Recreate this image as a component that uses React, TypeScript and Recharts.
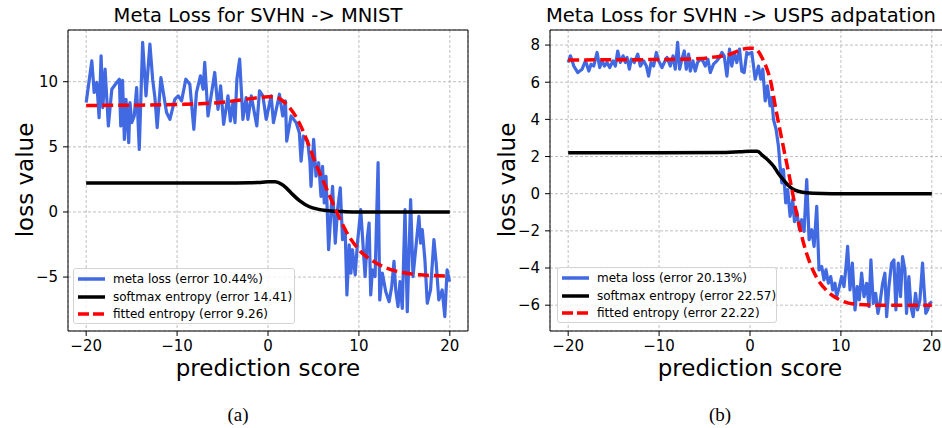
import React, { useLayoutEffect } from 'react';
import { LineChart, Line, XAxis, YAxis, CartesianGrid, ReferenceArea } from 'recharts';

// ---------- data: panel (a) SVHN -> MNIST ----------
const aMetaX = [-20.0, -19.38, -19.12, -18.83, -18.58, -18.36, -18.17, -17.92, -17.56, -17.18, -16.64, -16.35, -16.2, -16.0, -15.8, -15.62, -15.32, -15.18, -14.99, -14.71, -14.45, -14.16, -13.79, -13.42, -12.99, -12.69, -12.44, -12.19, -11.78, -11.16, -10.79, -10.25, -9.88, -9.51, -9.04, -8.6, -8.16, -7.87, -7.43, -7.14, -6.96, -6.6, -5.86, -5.5, -5.21, -4.88, -4.4, -4.14, -3.85, -3.63, -3.42, -3.12, -2.76, -2.4, -2.21, -1.84, -1.23, -0.93, -0.56, -0.2, 0.35, 0.6, 1.26, 1.62, 1.92, 2.06, 2.54, 3.09, 3.45, 3.64, 3.89, 4.36, 4.62, 4.73, 5.02, 5.28, 5.57, 5.83, 6.0, 6.19, 6.38, 6.67, 7.1, 7.4, 7.65, 7.95, 8.2, 8.49, 8.68, 8.93, 9.12, 9.29, 9.59, 9.84, 10.2, 10.68, 10.94, 11.12, 11.3, 11.48, 11.78, 12.11, 12.29, 12.58, 12.95, 13.32, 13.61, 13.86, 14.05, 14.3, 14.52, 14.77, 15.07, 15.32, 15.69, 15.95, 16.24, 16.6, 16.79, 16.97, 17.26, 17.52, 17.88, 18.25, 18.5, 18.79, 19.16, 19.45, 19.7, 19.97];
const aMetaY = [8.40, 11.60, 9.17, 9.94, 7.24, 11.99, 8.01, 10.96, 6.60, 9.42, 9.94, 10.19, 6.60, 10.1, 5.57, 8.65, 5.32, 8.40, 6.86, 7.37, 9.55, 4.80, 13.02, 8.91, 12.89, 10.19, 8.78, 6.47, 10.32, 7.63, 7.11, 8.65, 8.91, 8.52, 10.19, 9.81, 6.34, 9.17, 10.45, 9.42, 11.48, 7.37, 10.71, 7.88, 9.68, 6.73, 8.91, 6.98, 8.40, 6.86, 10.19, 11.73, 7.11, 8.78, 7.11, 8.91, 6.60, 9.29, 8.91, 7.11, 8.91, 6.86, 9.04, 7.37, 8.52, 5.44, 7.37, 6.86, 6.09, 3.90, 5.82, 5.44, 3.78, 1.97, 5.57, 2.74, 3.78, 1.20, 3.51, 0.69, 2.74, -2.90, 1.97, -2.39, 0.18, 1.85, -2.13, -1.36, -6.37, -2.52, -4.70, -2.90, -4.83, -2.39, 0.18, -4.96, -1.88, -0.85, -6.37, -4.45, -4.96, 3.78, -6.76, -4.70, -6.11, -6.89, -5.73, -3.80, -5.99, -7.27, -5.35, -7.40, 0.18, -7.66, 0.95, -4.96, -2.90, -0.34, -2.39, -1.36, -3.67, -7.01, -5.99, -2.13, -3.93, -6.76, -5.99, -8.04, -4.45, -5.35];
const aSoftX = [-20, -10, -5, -2, -1, 0, 0.8, 1.5, 2.0, 2.7, 3.5, 4.5, 5.6, 7.0, 8.5, 10, 15, 20];
const aSoftY = [2.22, 2.22, 2.22, 2.24, 2.27, 2.31, 2.31, 2.12, 1.85, 1.35, 0.85, 0.42, 0.2, 0.07, 0.02, 0.0, 0.0, 0.0];
const aFitX = [-20, -14, -10, -7.5, -5, -3, -1, 0, 0.7, 1.5, 2.2, 3.0, 3.8, 4.5, 5.2, 6.0, 6.8, 7.5, 8.6, 10, 11.5, 13, 14.8, 16.6, 18, 20];
const aFitY = [8.18, 8.2, 8.25, 8.3, 8.42, 8.6, 8.78, 8.85, 8.85, 8.6, 8.15, 7.4, 6.3, 5.1, 3.8, 2.5, 1.2, 0.1, -1.5, -2.9, -3.75, -4.3, -4.65, -4.82, -4.88, -4.92];

// ---------- data: panel (b) SVHN -> USPS ----------
const bMetaX = [-20.0, -19.75, -19.38, -18.94, -18.47, -18.1, -17.73, -17.48, -17.19, -16.82, -16.53, -16.27, -16.01, -15.72, -15.43, -15.06, -14.81, -14.55, -14.26, -13.96, -13.71, -13.52, -13.27, -13.05, -12.72, -12.35, -12.06, -11.7, -11.4, -11.15, -10.89, -10.6, -10.3, -10.05, -9.68, -9.43, -9.13, -8.77, -8.47, -8.22, -7.96, -7.74, -7.49, -7.23, -7.01, -6.75, -6.57, -6.28, -6.02, -5.77, -5.47, -5.18, -4.92, -4.63, -4.37, -4.01, -3.64, -3.35, -3.09, -2.84, -2.54, -2.25, -2.0, -1.74, -1.45, -1.15, -0.9, -0.64, -0.35, -0.17, 0.2, 0.57, 0.93, 1.19, 1.41, 1.67, 1.92, 2.21, 2.4, 2.58, 2.87, 3.13, 3.31, 3.5, 3.68, 3.93, 4.15, 4.41, 4.7, 4.89, 5.14, 5.44, 5.69, 5.95, 6.24, 6.5, 6.79, 7.05, 7.34, 7.59, 7.89, 8.14, 8.36, 8.62, 8.88, 9.1, 9.35, 9.53, 9.83, 10.08, 10.34, 10.56, 10.74, 11.0, 11.26, 11.55, 11.8, 12.02, 12.28, 12.54, 12.83, 13.09, 13.3, 13.56, 13.82, 14.07, 14.29, 14.59, 14.84, 15.03, 15.28, 15.57, 15.83, 16.05, 16.31, 16.56, 16.78, 17.04, 17.22, 17.48, 17.7, 17.95, 18.21, 18.43, 18.69, 18.98, 19.16, 19.34, 19.53, 19.78, 20.0];
const bMetaY = [7.06, 7.42, 6.87, 6.52, 6.70, 7.15, 6.60, 6.97, 6.87, 7.60, 6.79, 7.15, 6.87, 7.06, 6.79, 7.15, 6.87, 7.68, 7.06, 7.42, 7.06, 7.33, 6.70, 7.24, 7.06, 7.51, 6.87, 7.15, 6.87, 6.33, 7.06, 6.87, 7.60, 7.15, 6.79, 7.06, 7.33, 6.87, 7.42, 6.70, 8.14, 6.70, 7.24, 7.68, 6.70, 7.51, 6.60, 7.15, 6.60, 7.06, 7.24, 7.15, 6.87, 7.24, 6.52, 6.97, 7.15, 7.33, 7.60, 7.42, 6.33, 7.78, 6.87, 7.60, 7.06, 7.78, 6.60, 6.52, 7.60, 7.51, 7.60, 6.16, 6.87, 6.16, 6.70, 4.99, 5.80, 4.72, 5.17, 4.00, 3.46, 2.56, 1.48, 0.58, 1.30, -0.50, 0.22, -1.22, -0.32, -1.50, -0.95, -1.94, -1.40, -2.03, 0.76, -2.48, -1.94, -2.84, -0.68, -4.10, -3.92, -4.64, -4.10, -4.82, -4.46, -5.18, -4.82, -5.54, -5.00, -4.46, -5.00, -3.92, -2.84, -5.18, -3.74, -6.26, -5.00, -5.72, -4.28, -5.54, -4.82, -6.08, -3.56, -5.90, -5.36, -6.44, -5.90, -4.82, -4.28, -6.62, -5.00, -3.74, -3.56, -6.26, -3.74, -5.54, -3.38, -4.10, -6.44, -4.46, -6.08, -6.62, -5.36, -6.26, -5.72, -3.74, -5.18, -6.44, -6.26, -5.90, -5.81];
const bSoftX = [-20, -10, -3, -1, 0, 0.8, 1.4, 2.0, 2.6, 3.1, 3.65, 4.2, 4.7, 5.4, 6.2, 8, 10, 20];
const bSoftY = [2.2, 2.2, 2.22, 2.26, 2.29, 2.29, 2.05, 1.8, 1.48, 1.1, 0.76, 0.45, 0.25, 0.12, 0.05, 0.01, 0.0, 0.0];
const bFitX = [-20, -10, -5.1, -4, -2.5, -1.5, -1, 0, 0.5, 1.0, 1.4, 1.8, 2.2, 2.9, 3.65, 4.4, 5.1, 6.0, 7.1, 8.4, 9.8, 11.7, 14, 20];
const bFitY = [7.2, 7.22, 7.28, 7.35, 7.46, 7.65, 7.75, 7.83, 7.82, 7.6, 7.24, 6.8, 6.2, 4.4, 2.56, 0.76, -1.0, -2.85, -4.3, -5.2, -5.7, -5.95, -6.0, -6.0];

// ---------- ticks & labels ----------
const xTicks = [-20, -10, 0, 10, 20];
const aYTicks = [-5, 0, 5, 10];
const bYTicks = [-6, -4, -2, 0, 2, 4, 6, 8];
const titles = ['Meta Loss for SVHN -> MNIST', 'Meta Loss for SVHN -> USPS adpatation'];
const xLabel = 'prediction score';
const yLabel = 'loss value';
const aLegend = ['meta loss (error 10.44%)', 'softmax entropy (error 14.41)', 'fitted entropy (error 9.26)'];
const bLegend = ['meta loss (error 20.13%)', 'softmax entropy (error 22.57)', 'fitted entropy (error 22.22)'];
const captions = ['(a)', '(b)'];

const zip = (xs: number[], ys: number[]) => xs.map((x, i) => ({ x, y: ys[i] }));
const fmt = (v: number) => (v < 0 ? '\u2212' + Math.abs(v) : String(v));

const SANS = 'DejaVu Sans, sans-serif';
const BLUE = '#4169E1';
const RED = '#FF0000';

type PanelProps = {
  left: number;
  meta: { x: number; y: number }[];
  soft: { x: number; y: number }[];
  fit: { x: number; y: number }[];
  yDomain: [number, number];
  yTicks: number[];
};

function Panel({ left, meta, soft, fit, yDomain, yTicks }: PanelProps) {
  const tickStyle = { fill: '#000', fontSize: 15, fontFamily: SANS };
  return (
    <div style={{ position: 'absolute', left, top: 0 }}>
      <LineChart width={480} height={428} margin={{ top: 30, right: 12, bottom: 0, left: 0 }}>
        <CartesianGrid stroke="#b8b8b8" strokeDasharray="3 2" strokeWidth={0.9} />
        <XAxis
          type="number"
          dataKey="x"
          domain={[-22, 22]}
          ticks={xTicks}
          allowDataOverflow
          height={97}
          axisLine={false}
          tickLine={{ stroke: '#000' }}
          tickSize={5}
          tickMargin={4}
          tick={tickStyle}
          tickFormatter={fmt}
        />
        <YAxis
          type="number"
          domain={yDomain}
          ticks={yTicks}
          allowDataOverflow
          width={68}
          axisLine={false}
          tickLine={{ stroke: '#000' }}
          tickSize={5}
          tickMargin={5}
          tick={tickStyle}
          tickFormatter={fmt}
        />
        <Line data={meta} dataKey="y" type="linear" stroke={BLUE} strokeWidth={3.2} dot={false} strokeLinejoin="round" isAnimationActive={false} />
        <Line data={soft} dataKey="y" type="monotone" stroke="#000" strokeWidth={3.5} dot={false} isAnimationActive={false} />
        <Line data={fit} dataKey="y" type="monotone" stroke={RED} strokeWidth={3.5} strokeDasharray="11 5" dot={false} isAnimationActive={false} />
        <ReferenceArea x1={-22} x2={22} y1={yDomain[0]} y2={yDomain[1]} fill="none" fillOpacity={0} stroke="#000" strokeWidth={1} ifOverflow="visible" />
      </LineChart>
    </div>
  );
}

function LegendBox({ left, top, width, labels }: { left: number; top: number; width: number; labels: string[] }) {
  const rows = [10, 27.5, 44.5];
  const styles = [
    { stroke: BLUE, dash: undefined as string | undefined },
    { stroke: '#000', dash: undefined as string | undefined },
    { stroke: RED, dash: '11 4' },
  ];
  return (
    <div
      style={{
        position: 'absolute', left, top, width, height: 56, boxSizing: 'border-box',
        border: '1px solid #d4d4d4', borderRadius: 3, background: 'rgba(255,255,255,0.8)',
      }}
    >
      {labels.map((lab, i) => (
        <div key={lab} style={{ position: 'absolute', left: 0, top: rows[i] - 9, height: 18, width: '100%' }}>
          <svg width={30} height={18} style={{ position: 'absolute', left: 4, top: 0 }}>
            <line x1={0} y1={9} x2={27} y2={9} stroke={styles[i].stroke} strokeWidth={3.5} strokeDasharray={styles[i].dash} />
          </svg>
          <span
            style={{
              position: 'absolute', left: 39, top: 0, lineHeight: '18px', fontSize: 12,
              fontFamily: SANS, color: '#000', whiteSpace: 'nowrap',
            }}
          >
            {lab}
          </span>
        </div>
      ))}
    </div>
  );
}

export default function App() {
  useLayoutEffect(() => {
    document.body.style.margin = '0';
    document.body.style.overflow = 'hidden';
  }, []);
  return (
    <div style={{ position: 'fixed', left: 0, top: 0, width: 942, height: 428, overflow: 'hidden', background: '#fff' }}>
      <Panel left={0} meta={zip(aMetaX, aMetaY)} soft={zip(aSoftX, aSoftY)} fit={zip(aFitX, aFitY)} yDomain={[-9.14, 13.97]} yTicks={aYTicks} />
      <Panel left={482} meta={zip(bMetaX, bMetaY)} soft={zip(bSoftX, bSoftY)} fit={zip(bFitX, bFitY)} yDomain={[-7.39, 8.81]} yTicks={bYTicks} />
      <LegendBox left={73} top={268} width={222} labels={aLegend} />
      <LegendBox left={557} top={267} width={220} labels={bLegend} />
      <svg width={942} height={428} style={{ position: 'absolute', left: 0, top: 0, pointerEvents: 'none' }}>
        <g fontFamily={SANS} fill="#000">
          <text x={258} y={22} fontSize={19.5} textAnchor="middle">{titles[0]}</text>
          <text x={741} y={22} fontSize={19.5} textAnchor="middle">{titles[1]}</text>
          <text x={268} y={376} fontSize={23} textAnchor="middle">{xLabel}</text>
          <text x={750} y={376} fontSize={23} textAnchor="middle">{xLabel}</text>
          <text x={33} y={180} fontSize={23} textAnchor="middle" transform="rotate(-90 33 180)">{yLabel}</text>
          <text x={515} y={180} fontSize={23} textAnchor="middle" transform="rotate(-90 515 180)">{yLabel}</text>
        </g>
        <g fontFamily="Liberation Serif, Times New Roman, serif" fill="#000">
          <text x={238} y={421} fontSize={19} textAnchor="middle">{captions[0]}</text>
          <text x={720} y={421} fontSize={19} textAnchor="middle">{captions[1]}</text>
        </g>
      </svg>
    </div>
  );
}
